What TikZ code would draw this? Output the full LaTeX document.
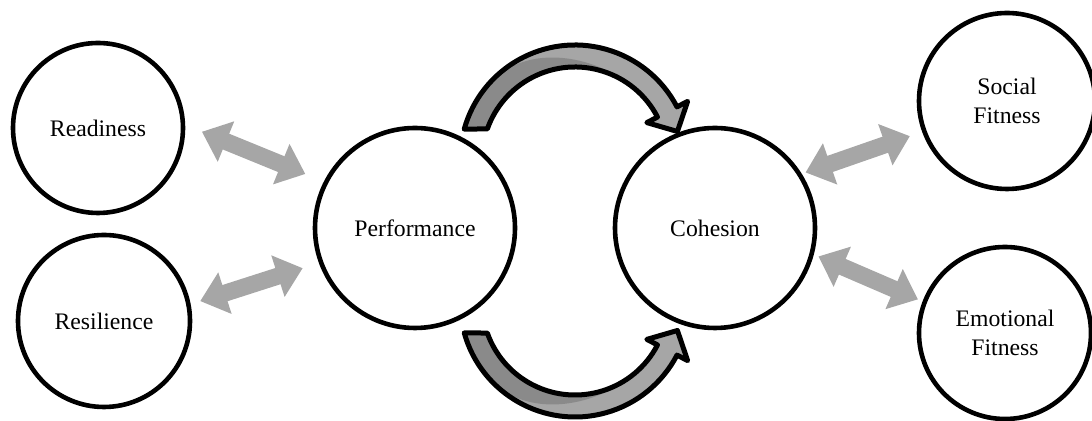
\documentclass[tikz,border=0pt]{standalone}
\usepackage{fontspec}
\setmainfont{Liberation Serif}
\usetikzlibrary{arrows.meta,positioning,calc}
\definecolor{linkgray}{HTML}{A6A6A6}
\definecolor{backgray}{HTML}{8A8A8A}

\begin{document}
\begin{tikzpicture}[x=0.5pt,y=0.5pt,
	link/.style={line width=8.5pt,draw=linkgray,{Triangle[length=13pt,width=21pt]}-{Triangle[length=13pt,width=21pt]}},
	ribbon/.style={line width=2.5pt,line join=round}]
	\useasboundingbox (0,0) rectangle (1092,421);
	\begin{scope}[every node/.style={circle,draw,line width=2.3pt,inner sep=0pt,align=center,font=\fontsize{11.85}{14.5}\selectfont}]
		\node[minimum size=85pt] (ready) at (98,293) {Readiness};
		\node[minimum size=86pt] (resil) at (104,100) {Resilience};
		\node[minimum size=100pt] (perf) at (415,193) {Performance};
		\node[minimum size=100pt] (coh) at (715,193) {Cohesion};
		\node[minimum size=88pt] (social) at (1007,320) {Social\\ Fitness};
		\node[minimum size=86pt] (emo) at (1005,88) {Emotional\\ Fitness};
	\end{scope}

	\begin{scope}
	\draw[link,shorten <=9pt,shorten >=10pt] (ready.2) -- (perf.153);
	\draw[link,shorten <=5pt,shorten >=8.5pt] (resil.11) -- (perf.200);
	\draw[link,shorten <=2pt,shorten >=6.5pt] (coh.32) -- (social.200);
	\draw[link,shorten <=2.5pt,shorten >=2.5pt] (coh.-15) -- (emo.159);
	\end{scope}

	% curved arrow over the top
	\begin{scope}[shift={($(perf)!0.5!(coh)+(10,68)$)}]
	\fill[linkgray] (164.4:57.5pt) arc[start angle=164.4,end angle=27.5,radius=57.5pt] -- (27.5:63.5pt) -- (51.2pt,14.25pt) -- (27.5:40.5pt) -- (27.5:46.5pt) arc[start angle=27.5,end angle=160.5,radius=46.5pt] -- cycle;
	\fill[backgray] (164.4:57.5pt) arc[start angle=164.4,end angle=140,radius=57.5pt] .. controls +(50:30pt) and +(135:28pt) .. (45:46.5pt) arc[start angle=45,end angle=160.5,radius=46.5pt] -- cycle;
	\draw[ribbon] (164.4:57.5pt) arc[start angle=164.4,end angle=27.5,radius=57.5pt] -- (27.5:63.5pt) -- (51.2pt,14.25pt) -- (27.5:40.5pt) -- (27.5:46.5pt) arc[start angle=27.5,end angle=160.5,radius=46.5pt] -- cycle;
	\end{scope}

	% curved arrow underneath
	\begin{scope}[shift={($(perf)!0.5!(coh)+(10,-74)$)},yscale=-1]
	\fill[linkgray] (164.4:57.5pt) arc[start angle=164.4,end angle=27.5,radius=57.5pt] -- (27.5:63.5pt) -- (51.2pt,14.25pt) -- (27.5:40.5pt) -- (27.5:46.5pt) arc[start angle=27.5,end angle=160.5,radius=46.5pt] -- cycle;
	\fill[backgray] (164.4:57.5pt) arc[start angle=164.4,end angle=140,radius=57.5pt] .. controls +(50:30pt) and +(135:28pt) .. (45:46.5pt) arc[start angle=45,end angle=160.5,radius=46.5pt] -- cycle;
	\draw[ribbon] (164.4:57.5pt) arc[start angle=164.4,end angle=27.5,radius=57.5pt] -- (27.5:63.5pt) -- (51.2pt,14.25pt) -- (27.5:40.5pt) -- (27.5:46.5pt) arc[start angle=27.5,end angle=160.5,radius=46.5pt] -- cycle;
	\end{scope}
\end{tikzpicture}
\end{document}
